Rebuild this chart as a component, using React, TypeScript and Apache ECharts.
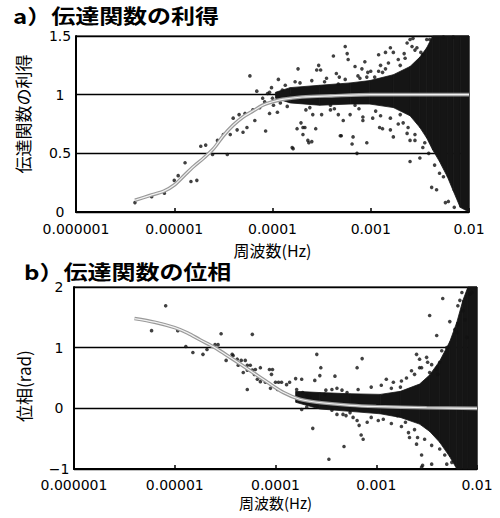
import React, { useEffect, useRef } from "react";
import * as echarts from "echarts";

// x values are log10(frequency [Hz]); tick labels show the frequency itself
const xTicks = [-6, -5, -4, -3, -2];
const xTickLabels = ["0.000001", "0.00001", "0.0001", "0.001", "0.01"];

const gainTicks = [0, 0.5, 1, 1.5];
const gainTickLabels = ["0", "0.5", "1", "1.5"];
const phaseTicks = [-1, 0, 1, 2];
const phaseTickLabels = ["−1", "0", "1", "2"];

// fitted transfer-function curves [log10 f, value]
const gainCurve: [number, number][] = [
  [-5.4, 0.1], [-5.25, 0.14], [-5.1, 0.18], [-5.0, 0.23], [-4.9, 0.31], [-4.8, 0.39],
  [-4.7, 0.46], [-4.6, 0.54], [-4.5, 0.65], [-4.4, 0.74], [-4.3, 0.81], [-4.2, 0.86],
  [-4.1, 0.91], [-4.0, 0.94], [-3.9, 0.96], [-3.7, 0.98], [-3.4, 0.99], [-3.0, 1.0], [-2.0, 1.0],
];
const phaseCurve: [number, number][] = [
  [-5.4, 1.48], [-5.2, 1.42], [-5.0, 1.33], [-4.87, 1.24], [-4.75, 1.13], [-4.6, 1.0],
  [-4.45, 0.84], [-4.25, 0.62], [-4.08, 0.43], [-3.92, 0.26], [-3.76, 0.15], [-3.59, 0.1],
  [-3.26, 0.05], [-3.0, 0.03], [-2.5, 0.01], [-2.0, 0.0],
];

// dense scatter cloud envelope [log10 f] with upper / lower bounds
const gainBandX = [-3.97, -3.82, -3.52, -3.21, -3.01, -2.77, -2.6, -2.5, -2.43, -2.37, -2.3, -2.22, -2.16, -2.09, -2.0];
const gainBandHi = [1.02, 1.06, 1.08, 1.1, 1.12, 1.17, 1.24, 1.32, 1.4, 1.5, 1.5, 1.5, 1.5, 1.5, 1.5];
const gainBandLo = [0.97, 0.93, 0.91, 0.92, 0.92, 0.89, 0.82, 0.72, 0.63, 0.53, 0.43, 0.3, 0.18, 0.04, 0.0];

const phaseBandX = [-3.8, -3.56, -3.26, -2.96, -2.76, -2.57, -2.47, -2.37, -2.27, -2.2, -2.14, -2.09, -2.0];
const phaseBandHi = [0.28, 0.26, 0.24, 0.23, 0.28, 0.4, 0.55, 0.78, 1.1, 1.42, 1.78, 2.0, 2.0];
const phaseBandLo = [0.1, -0.01, -0.05, -0.09, -0.15, -0.26, -0.38, -0.56, -0.8, -1.0, -1.0, -1.0, -1.0];

// individual observations [log10 f, value]
const gainPoints: [number, number][] = [
  [-5.4, 0.08], [-5.23, 0.13], [-5.1, 0.16], [-5.0, 0.27], [-4.96, 0.31], [-4.89, 0.42], [-4.83, 0.26],
  [-4.77, 0.27], [-4.73, 0.56], [-4.68, 0.57], [-4.61, 0.49], [-4.56, 0.61], [-4.5, 0.66], [-4.46, 0.49],
  [-4.43, 0.66], [-4.36, 0.7], [-4.3, 0.68], [-4.26, 0.72], [-4.23, 1.16], [-4.16, 1.03], [-4.28, 0.84],
  [-4.34, 0.83], [-4.4, 0.8], [-4.2, 0.87], [-4.18, 0.78], [-4.13, 0.89], [-4.08, 0.94], [-4.05, 1.01],
  [-4.07, 0.69], [-4.03, 0.84], [-3.95, 0.85], [-3.99, 0.91], [-3.94, 1.13], [-3.92, 0.93], [-3.74, 1.22],
  [-3.79, 0.54], [-3.75, 0.71], [-3.71, 0.76], [-3.69, 0.72], [-3.69, 0.66], [-3.64, 0.61], [-3.63, 0.59],
  [-3.56, 0.71], [-3.59, 0.83], [-3.53, 1.25], [-3.55, 1.21], [-3.51, 1.21], [-3.38, 1.33], [-3.26, 1.41],
  [-3.24, 1.35], [-3.23, 1.3], [-3.35, 1.18], [-3.32, 1.15], [-3.3, 0.65], [-3.18, 0.64], [-3.19, 0.58],
  [-3.14, 0.5], [-3.06, 1.28], [-3.09, 1.22], [-3.04, 1.15], [-3.16, 1.24], [-3.28, 0.78], [-3.21, 0.83],
  [-3.08, 0.78], [-3.33, 0.83], [-3.5, 0.83], [-3.41, 0.87], [-3.04, 0.59], [-3.03, 1.19], [-2.92, 1.34],
  [-2.85, 1.36], [-2.8, 1.4], [-2.77, 1.36], [-2.88, 1.19], [-2.96, 1.15], [-3.08, 0.81], [-2.98, 0.8],
  [-2.91, 0.72], [-2.88, 0.71], [-2.8, 0.7], [-2.77, 0.64], [-2.67, 0.76], [-2.63, 0.67], [-2.6, 0.61],
  [-2.55, 0.61], [-2.6, 0.43], [-2.5, 0.46], [-2.45, 0.59], [-2.63, 1.44], [-2.6, 1.47], [-2.58, 1.41],
  [-2.53, 1.4], [-2.43, 1.47], [-2.47, 1.34], [-2.33, 0.19], [-2.38, 0.21], [-2.21, 0.09], [-2.24, 0.08],
  [-2.26, 0.3], [-2.3, 0.33], [-3.8, 0.55], [-3.67, 0.72], [-3.6, 0.6], [-3.31, 0.65], [-2.15, 0.04],
  [-2.57, 1.48], [-2.49, 1.36], [-2.4, 1.47], [-2.26, 1.49], [-2.16, 1.49], [-4.03, 1.02], [-4.01, 1.06],
  [-2.65, 1.31], [-4.1, 0.97], [-3.87, 1.08], [-3.72, 1.1], [-3.62, 0.89], [-3.47, 1.11], [-3.41, 0.91],
  [-3.26, 1.13], [-3.16, 0.91], [-3.11, 1.14], [-3.85, 0.9], [-3.6, 1.12], [-3.33, 1.09], [-2.95, 0.86],
  [-2.85, 1.22], [-2.7, 1.25], [-2.7, 0.83], [-2.92, 1.2], [-3.9, 1.04], [-4.0, 0.97],
  [-3.0, 1.2], [-2.9, 1.25], [-2.82, 1.27], [-2.72, 1.3], [-2.66, 1.35], [-2.55, 1.38], [-2.9, 0.82],
  [-2.8, 0.8], [-2.72, 0.75], [-2.62, 0.72], [-2.55, 0.66], [-2.47, 0.55], [-2.41, 0.5], [-2.35, 0.4],
  [-3.45, 1.14], [-3.37, 0.88], [-3.13, 1.16], [-3.12, 0.88], [-3.77, 1.11], [-3.66, 0.87],
];
const phasePoints: [number, number][] = [
  [-5.09, 1.69], [-5.23, 1.28], [-4.97, 1.28], [-4.89, 1.02], [-4.82, 0.92], [-4.72, 0.89], [-4.68, 0.97],
  [-4.6, 1.05], [-4.57, 1.05], [-4.54, 1.23], [-4.49, 0.79], [-4.43, 0.89], [-4.38, 0.81], [-4.34, 0.79],
  [-4.3, 0.79], [-4.32, 0.59], [-4.28, 0.71], [-4.23, 1.22], [-4.42, 0.87], [-4.37, 0.71], [-4.25, 0.71],
  [-4.28, 0.63], [-4.23, 0.63], [-4.2, 0.64], [-4.15, 0.67], [-4.21, 0.56], [-4.18, 0.48], [-4.15, 0.44],
  [-4.06, 0.64], [-4.03, 0.64], [-4.04, 0.56], [-4.28, 0.31], [-4.1, 0.43], [-4.0, 0.43], [-3.97, 0.43],
  [-3.94, 0.43], [-4.05, 0.33], [-3.98, 0.31], [-3.89, 0.39], [-3.86, 0.43], [-3.8, 0.49], [-3.74, 0.48],
  [-3.59, 0.89], [-3.55, 0.67], [-3.56, 0.54], [-3.61, 0.46], [-3.41, 0.53], [-3.14, 0.82], [-3.19, 0.67],
  [-3.18, 0.31], [-3.63, -0.33], [-3.32, -0.63], [-3.47, -0.84], [-3.15, -0.44], [-3.13, -0.51], [-3.17, -0.28],
  [-3.74, -0.02], [-3.69, 0.02], [-3.44, -0.03], [-3.39, -0.1], [-3.33, -0.1], [-3.26, -0.07], [-3.23, -0.15],
  [-3.19, -0.2], [-3.79, 0.31], [-3.73, 0.26], [-3.69, 0.21], [-3.66, 0.18], [-3.51, 0.23], [-3.44, 0.31],
  [-3.39, 0.33], [-3.34, 0.3], [-3.29, 0.26], [-2.34, 1.81], [-2.47, 1.53], [-2.4, 1.2], [-2.27, 1.43],
  [-2.22, 1.3], [-2.2, 1.25], [-2.19, 1.38], [-2.15, 1.91], [-2.17, 1.78], [-2.19, 1.69], [-2.14, 1.61],
  [-2.12, 1.46], [-2.1, 1.17], [-2.07, 1.88], [-2.05, 1.91], [-2.6, 0.89], [-2.57, 0.81], [-2.55, 0.67],
  [-2.5, 0.84], [-2.45, 0.72], [-2.37, 0.76], [-2.35, 0.95], [-2.3, 1.0], [-2.49, 0.76], [-2.57, 0.67],
  [-2.9, 0.48], [-2.83, 0.43], [-2.76, 0.35], [-2.62, 0.56], [-2.47, 0.59], [-2.39, 0.56], [-2.79, -0.12],
  [-2.71, -0.23], [-2.62, -0.35], [-2.59, -0.48], [-2.52, -0.51], [-2.45, -0.61], [-2.55, -0.77], [-2.54, -0.94],
  [-2.37, -0.67], [-2.32, -0.77], [-2.3, -0.92], [-2.25, -0.89], [-2.93, -0.18], [-3.09, -0.23], [-2.67, -0.48],
  [-2.6, -0.59], [-2.55, -0.97], [-2.45, -0.92],
  [-2.95, 0.38], [-2.85, 0.33], [-2.75, 0.45], [-2.7, 0.5], [-2.65, 0.62], [-3.05, 0.35], [-2.98, -0.2],
  [-2.85, -0.25], [-2.75, -0.3], [-2.68, -0.4], [-3.5, 0.3], [-3.3, -0.12], [-3.05, -0.15], [-2.4, 0.65],
];

const titleA = "a）伝達関数の利得";
const titleB = "b）伝達関数の位相";
const yNameA = "伝達関数の利得";
const yNameB = "位相(rad)";
const xName = "周波数(Hz)";

const CJK = '"Noto Sans CJK JP", "Noto Sans", sans-serif';
const NUM = '"DejaVu Sans", "Liberation Sans", sans-serif';

function bandSeries(xs: number[], hi: number[], lo: number[], idx: number) {
  return {
    type: "custom",
    xAxisIndex: idx,
    yAxisIndex: idx,
    silent: true,
    encode: { x: 0, y: [1, 2] },
    data: xs.map((x, i) => [x, hi[i], lo[i]]),
    renderItem: (params: any, api: any) => {
      const i = params.dataIndexInside;
      if (i >= params.dataInsideLength - 1) return null;
      const x0 = api.value(0, i), h0 = api.value(1, i), l0 = api.value(2, i);
      const x1 = api.value(0, i + 1), h1 = api.value(1, i + 1), l1 = api.value(2, i + 1);
      return {
        type: "polygon",
        shape: { points: [api.coord([x0, h0]), api.coord([x1, h1]), api.coord([x1, l1]), api.coord([x0, l0])] },
        style: { fill: "#151515", stroke: "#151515", lineWidth: 0.8 },
      };
    },
  };
}

function xAxisDef(idx: number, margin: number, gap: number, nameSize: number) {
  return {
    gridIndex: idx,
    type: "value",
    min: -6,
    max: -2,
    interval: 1,
    axisLine: { show: true, onZero: false, lineStyle: { color: "#000", width: 2 } },
    axisTick: { show: true, inside: true, length: 4, lineStyle: { color: "#000", width: 1.5 } },
    axisLabel: {
      color: "#000",
      fontSize: 14,
      lineHeight: 14,
      fontFamily: NUM,
      margin,
      formatter: (v: number) => {
        const k = xTicks.indexOf(Math.round(v));
        return k < 0 ? "" : xTickLabels[k];
      },
    },
    splitLine: { show: false },
    name: xName,
    nameLocation: "middle",
    nameGap: gap,
    nameTextStyle: { color: "#000", fontSize: nameSize, lineHeight: nameSize, fontFamily: CJK },
  };
}

function yAxisDef(idx: number, min: number, max: number, interval: number, ticks: number[], labels: string[], margin: number) {
  return {
    gridIndex: idx,
    type: "value",
    min,
    max,
    interval,
    axisLine: { show: true, onZero: false, lineStyle: { color: "#000", width: 2 } },
    axisTick: { show: false },
    axisLabel: {
      color: "#000",
      fontSize: 14,
      lineHeight: 12,
      fontFamily: NUM,
      align: "center",
      margin,
      formatter: (v: number) => {
        const k = ticks.findIndex((t) => Math.abs(t - v) < 1e-9);
        return k >= 0 ? labels[k] : "";
      },
    },
    splitLine: { show: true, lineStyle: { color: "#000", width: 1.3 } },
  };
}

function curveSeries(data: [number, number][], idx: number) {
  return [
    {
      type: "line",
      xAxisIndex: idx,
      yAxisIndex: idx,
      data,
      smooth: 0.3,
      showSymbol: false,
      silent: true,
      lineStyle: { color: "#9a9a9a", width: 3.6 },
      z: 5,
    },
    {
      type: "line",
      xAxisIndex: idx,
      yAxisIndex: idx,
      data,
      smooth: 0.3,
      showSymbol: false,
      silent: true,
      lineStyle: { color: "#f2f2f2", width: 1.2 },
      z: 6,
    },
  ];
}

function scatterSeries(data: [number, number][], idx: number) {
  return {
    type: "scatter",
    xAxisIndex: idx,
    yAxisIndex: idx,
    data,
    symbol: "circle",
    symbolSize: 3.6,
    silent: true,
    itemStyle: { color: "#111" },
    z: 3,
  };
}

export default function App() {
  const ref = useRef<HTMLDivElement>(null);
  useEffect(() => {
    if (!ref.current) return;
    const chart = echarts.init(ref.current, undefined, { renderer: "svg" });
    chart.setOption({
      animation: false,
      backgroundColor: "#fff",
      grid: [
        { left: 76, top: 36, width: 393, height: 176, show: true, borderColor: "#000", borderWidth: 1, backgroundColor: "transparent" },
        { left: 74, top: 287, width: 403, height: 182, show: true, borderColor: "#000", borderWidth: 1, backgroundColor: "transparent" },
      ],
      xAxis: [xAxisDef(0, 10, 30, 16), xAxisDef(1, 9, 26, 15)],
      yAxis: [
        yAxisDef(0, 0, 1.5, 0.5, gainTicks, gainTickLabels, 16),
        yAxisDef(1, -1, 2, 1, phaseTicks, phaseTickLabels, 15),
      ],
      graphic: [
        { type: "text", x: 13, y: 15, scaleX: 1.2, style: { text: titleA, fontSize: 20, fontWeight: "bold", fontFamily: CJK, fill: "#000", verticalAlign: "middle" } },
        { type: "text", x: 24, y: 271, scaleX: 1.2, style: { text: titleB, fontSize: 20, fontWeight: "bold", fontFamily: CJK, fill: "#000", verticalAlign: "middle" } },
        { type: "text", x: 22, y: 114, rotation: Math.PI / 2, style: { text: yNameA, fontSize: 17, fontFamily: CJK, fill: "#000", align: "center", verticalAlign: "middle" } },
        { type: "text", x: 23, y: 386, rotation: Math.PI / 2, style: { text: yNameB, fontSize: 17, fontFamily: CJK, fill: "#000", align: "center", verticalAlign: "middle" } },
      ],
      series: [
        bandSeries(gainBandX, gainBandHi, gainBandLo, 0),
        scatterSeries(gainPoints, 0),
        ...curveSeries(gainCurve, 0),
        bandSeries(phaseBandX, phaseBandHi, phaseBandLo, 1),
        scatterSeries(phasePoints, 1),
        ...curveSeries(phaseCurve, 1),
      ],
    });
    return () => chart.dispose();
  }, []);
  return <div ref={ref} style={{ position: "fixed", left: 0, top: 0, width: 500, height: 518 }} />;
}
